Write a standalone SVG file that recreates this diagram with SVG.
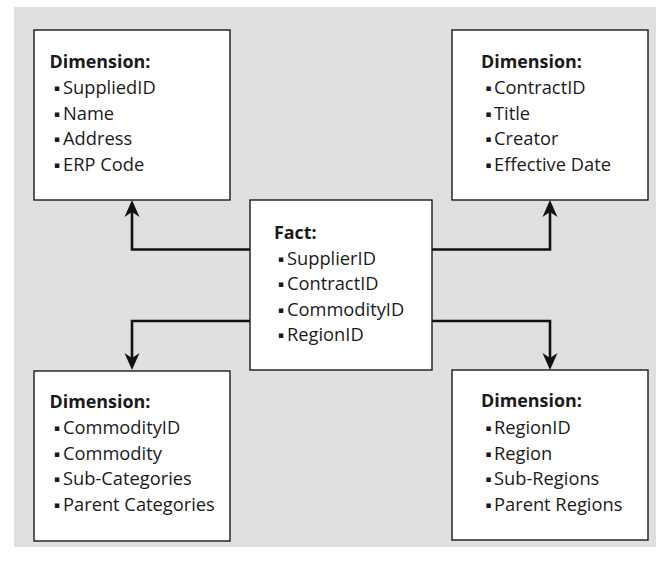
<svg xmlns="http://www.w3.org/2000/svg" width="656" height="562" viewBox="0 0 656 562">
<style>
.box{fill:#fff;stroke:#1a1a1a;stroke-width:1.4}
.t{font-family:"Open Sans","Noto Sans","DejaVu Sans",sans-serif;font-size:18.3px;fill:#1a1a1a}
.h{font-weight:bold;font-size:17.9px}
.b{font-family:"DejaVu Sans",sans-serif;font-size:9px}
.c{fill:none;stroke:#111;stroke-width:2.6;stroke-linejoin:miter}
</style>
<defs>
<marker id="ah" markerUnits="userSpaceOnUse" viewBox="-18 -8 19 16" markerWidth="19" markerHeight="16" refX="-12" refY="0" orient="auto">
<path d="M0,0 L-17,-7.5 L-12,0 L-17,7.5 Z" fill="#111"/>
</marker>
</defs>
<rect x="14" y="7" width="642" height="540" fill="#e0e0e0"/>
<g id="connectors">
<path class="c" d="M250,249.5 H132 V212" marker-end="url(#ah)"/>
<path class="c" d="M432,249.5 H550 V212" marker-end="url(#ah)"/>
<path class="c" d="M250,321 H132 V358" marker-end="url(#ah)"/>
<path class="c" d="M432,321 H550 V358" marker-end="url(#ah)"/>
</g>
<g id="dim-supplier">
<rect class="box" x="34" y="30" width="196" height="170"/>
<text class="t h" x="49.5" y="68">Dimension:</text>
<text class="t" x="54" y="94"><tspan class="b" dy="-3">▪</tspan><tspan x="63" dy="3">SuppliedID</tspan></text>
<text class="t" x="54" y="119.5"><tspan class="b" dy="-3">▪</tspan><tspan x="63" dy="3">Name</tspan></text>
<text class="t" x="54" y="145"><tspan class="b" dy="-3">▪</tspan><tspan x="63" dy="3">Address</tspan></text>
<text class="t" x="54" y="170.5"><tspan class="b" dy="-3">▪</tspan><tspan x="63" dy="3">ERP Code</tspan></text>
</g>
<g id="dim-contract">
<rect class="box" x="452" y="30" width="196" height="170"/>
<text class="t h" x="481" y="68">Dimension:</text>
<text class="t" x="485.5" y="94"><tspan class="b" dy="-3">▪</tspan><tspan x="494" dy="3">ContractID</tspan></text>
<text class="t" x="485.5" y="119.5"><tspan class="b" dy="-3">▪</tspan><tspan x="494" dy="3">Title</tspan></text>
<text class="t" x="485.5" y="145"><tspan class="b" dy="-3">▪</tspan><tspan x="494" dy="3">Creator</tspan></text>
<text class="t" x="485.5" y="170.5"><tspan class="b" dy="-3">▪</tspan><tspan x="494" dy="3">Effective Date</tspan></text>
</g>
<g id="fact">
<rect class="box" x="250" y="200" width="182" height="170"/>
<text class="t h" x="274" y="239">Fact:</text>
<text class="t" x="278" y="264.5"><tspan class="b" dy="-3">▪</tspan><tspan x="287" dy="3">SupplierID</tspan></text>
<text class="t" x="278" y="290"><tspan class="b" dy="-3">▪</tspan><tspan x="287" dy="3">ContractID</tspan></text>
<text class="t" x="278" y="315.5"><tspan class="b" dy="-3">▪</tspan><tspan x="287" dy="3">CommodityID</tspan></text>
<text class="t" x="278" y="341"><tspan class="b" dy="-3">▪</tspan><tspan x="287" dy="3">RegionID</tspan></text>
</g>
<g id="dim-commodity">
<rect class="box" x="34" y="371" width="196" height="170"/>
<text class="t h" x="49.5" y="408">Dimension:</text>
<text class="t" x="54" y="434"><tspan class="b" dy="-3">▪</tspan><tspan x="63" dy="3">CommodityID</tspan></text>
<text class="t" x="54" y="459.5"><tspan class="b" dy="-3">▪</tspan><tspan x="63" dy="3">Commodity</tspan></text>
<text class="t" x="54" y="485"><tspan class="b" dy="-3">▪</tspan><tspan x="63" dy="3">Sub-Categories</tspan></text>
<text class="t" x="54" y="510.5"><tspan class="b" dy="-3">▪</tspan><tspan x="63" dy="3">Parent Categories</tspan></text>
</g>
<g id="dim-region">
<rect class="box" x="452" y="370" width="196" height="170"/>
<text class="t h" x="481" y="407">Dimension:</text>
<text class="t" x="485.5" y="434"><tspan class="b" dy="-3">▪</tspan><tspan x="494" dy="3">RegionID</tspan></text>
<text class="t" x="485.5" y="459.5"><tspan class="b" dy="-3">▪</tspan><tspan x="494" dy="3">Region</tspan></text>
<text class="t" x="485.5" y="485"><tspan class="b" dy="-3">▪</tspan><tspan x="494" dy="3">Sub-Regions</tspan></text>
<text class="t" x="485.5" y="510.5"><tspan class="b" dy="-3">▪</tspan><tspan x="494" dy="3">Parent Regions</tspan></text>
</g>
</svg>
